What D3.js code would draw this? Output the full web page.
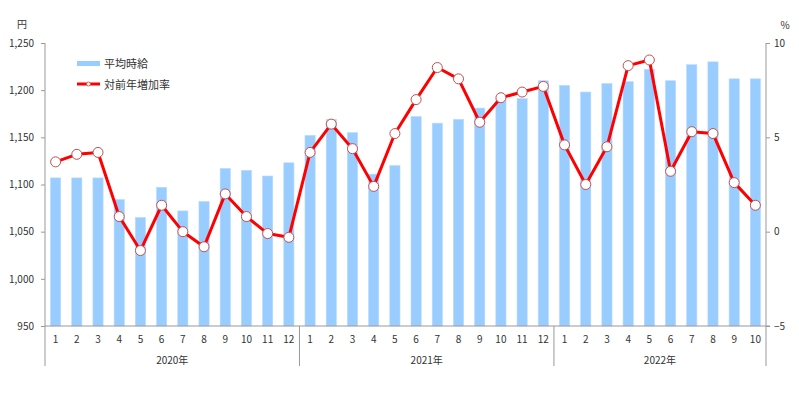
<!DOCTYPE html>
<html>
<head>
<meta charset="utf-8">
<script src="https://cdn.jsdelivr.net/npm/d3@7"></script>
<style>
  body { margin: 0; background: #fff; }
  svg text { font-family: "Noto Sans CJK JP", "Noto Sans", sans-serif; fill: #333; }
</style>
</head>
<body>
<script>
// data
const years = ["2020年", "2021年", "2022年"];
const monthsPerYear = [12, 12, 10];
const monthLabels = [
  "1","2","3","4","5","6","7","8","9","10","11","12",
  "1","2","3","4","5","6","7","8","9","10","11","12",
  "1","2","3","4","5","6","7","8","9","10",
];
const wage = [
  1107, 1107, 1107, 1084, 1065, 1097, 1072, 1082, 1117, 1115, 1109, 1123,
  1152, 1169, 1155, 1111, 1120, 1172, 1165, 1169, 1181, 1190, 1191, 1210,
  1205, 1198, 1207, 1209, 1222, 1210, 1227, 1230, 1212, 1212,
];
const rate = [
  3.7, 4.1, 4.2, 0.8, -1.0, 1.4, 0.0, -0.8, 2.0, 0.8, -0.1, -0.3,
  4.2, 5.7, 4.4, 2.4, 5.2, 7.0, 8.7, 8.1, 5.8, 7.1, 7.4, 7.7,
  4.6, 2.5, 4.5, 8.8, 9.1, 3.2, 5.3, 5.2, 2.6, 1.4,
];
const wageTicks = [950, 1000, 1050, 1100, 1150, 1200, 1250];
const rateTicks = [-5, 0, 5, 10];

const W = 799, H = 398;
const p = { t: 43, r: 33, b: 72, l: 45 };
const axisColor = "#999";

const svg = d3.select("body").append("svg").attr("width", W).attr("height", H);

const x = d3.scaleBand()
  .domain(d3.range(wage.length))
  .range([p.l, W - p.r])
  .paddingInner(0.52)
  .paddingOuter(0.26);
const step = x.step();
const yL = d3.scaleLinear().domain([950, 1250]).range([H - p.b, p.t]);
const yR = d3.scaleLinear().domain([-5, 10]).range([H - p.b, p.t]);

// bars
svg.append("g")
  .selectAll("rect")
  .data(wage)
  .enter()
  .append("rect")
  .attr("x", (d, i) => x(i))
  .attr("y", (d) => yL(d))
  .attr("width", x.bandwidth())
  .attr("height", (d) => yL(950) - yL(d))
  .attr("fill", "#99ccff")
  .attr("stroke", "#b5dbff")
  .attr("stroke-width", 0.6);

// left axis
const axL = svg.append("g").attr("transform", `translate(${p.l},0)`)
  .call(d3.axisLeft(yL).tickValues(wageTicks).tickSize(4).tickPadding(7)
    .tickFormat(d3.format(",")));
axL.select(".domain").remove();
axL.selectAll("line").attr("stroke", axisColor);
axL.selectAll("text").attr("font-size", 10).attr("fill", "#333");
svg.append("line")
  .attr("x1", p.l).attr("x2", p.l)
  .attr("y1", yL(1250)).attr("y2", H - p.b + 40)
  .attr("stroke", axisColor);

// right axis
const xr = W - p.r;
const axR = svg.append("g").attr("transform", `translate(${xr},0)`)
  .call(d3.axisRight(yR).tickValues(rateTicks).tickSize(4).tickPadding(4));
axR.select(".domain").remove();
axR.selectAll("line").attr("stroke", axisColor);
axR.selectAll("text").attr("font-size", 10).attr("fill", "#333");
svg.append("line")
  .attr("x1", xr).attr("x2", xr)
  .attr("y1", yR(10)).attr("y2", H - p.b + 40)
  .attr("stroke", axisColor);

// x axis
svg.append("line")
  .attr("x1", p.l).attr("x2", xr + 4)
  .attr("y1", yL(950)).attr("y2", yL(950))
  .attr("stroke", axisColor);

svg.append("g")
  .selectAll("text")
  .data(monthLabels)
  .enter()
  .append("text")
  .attr("x", (d, i) => x(i) + x.bandwidth() / 2)
  .attr("y", yL(950) + 17)
  .attr("text-anchor", "middle")
  .attr("font-size", 10)
  .text((d) => d);

// year groups
let start = 0;
years.forEach((yr, k) => {
  const n = monthsPerYear[k];
  const x0 = p.l + step * start;
  const x1 = p.l + step * (start + n);
  if (k > 0) {
    svg.append("line")
      .attr("x1", x0).attr("x2", x0)
      .attr("y1", yL(950)).attr("y2", H - p.b + 40)
      .attr("stroke", axisColor);
  }
  svg.append("text")
    .attr("x", (x0 + x1) / 2)
    .attr("y", yL(950) + 38)
    .attr("text-anchor", "middle")
    .attr("font-size", 10)
    .text(yr);
  start += n;
});

// unit labels
svg.append("text").attr("x", 22).attr("y", 28).attr("text-anchor", "middle")
  .attr("font-size", 10).text("円");
svg.append("text").attr("x", 785).attr("y", 29).attr("text-anchor", "middle")
  .attr("font-size", 10).text("%");

// line
const line = d3.line()
  .x((d, i) => x(i) + x.bandwidth() / 2)
  .y((d) => yR(d));
svg.append("path")
  .datum(rate)
  .attr("d", line)
  .attr("fill", "none")
  .attr("stroke", "#ff0000")
  .attr("stroke-width", 3)
  .attr("stroke-linejoin", "round");
svg.append("g")
  .selectAll("circle")
  .data(rate)
  .enter()
  .append("circle")
  .attr("cx", (d, i) => x(i) + x.bandwidth() / 2)
  .attr("cy", (d) => yR(d))
  .attr("r", 5)
  .attr("fill", "#fff")
  .attr("stroke", "#c0504d")
  .attr("stroke-width", 1);

// legend
const lg = svg.append("g").attr("transform", "translate(77,0)");
lg.append("rect").attr("x", 0).attr("y", 61).attr("width", 23).attr("height", 5)
  .attr("fill", "#99ccff");
lg.append("text").attr("x", 27).attr("y", 67.5).attr("font-size", 11).text("平均時給");
lg.append("line").attr("x1", 0).attr("x2", 23).attr("y1", 84).attr("y2", 84)
  .attr("stroke", "#ff0000").attr("stroke-width", 3);
lg.append("circle").attr("cx", 11.5).attr("cy", 84).attr("r", 2)
  .attr("fill", "#fff").attr("stroke", "#c0504d").attr("stroke-width", 0.8);
lg.append("text").attr("x", 27).attr("y", 88.5).attr("font-size", 11).text("対前年増加率");
</script>
</body>
</html>
